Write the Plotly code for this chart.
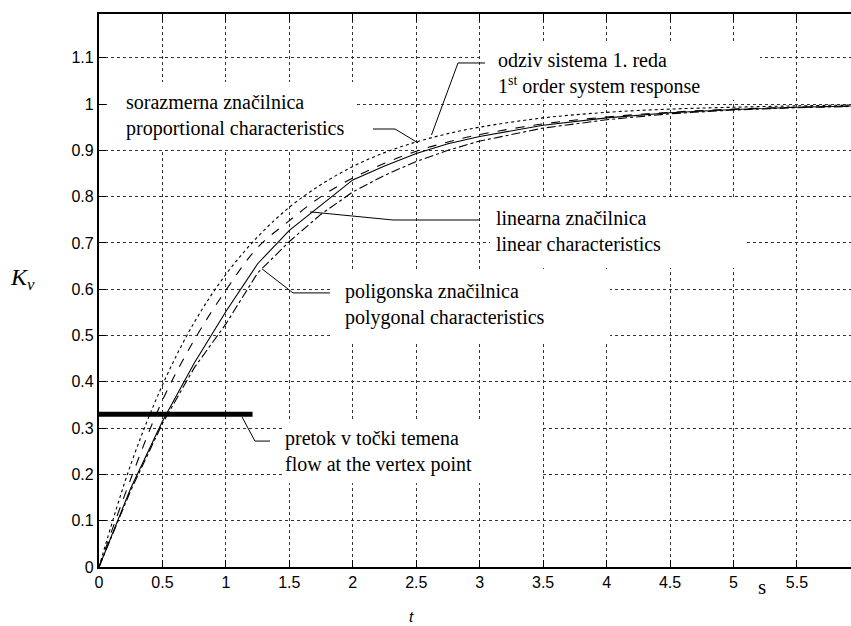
import plotly.graph_objects as go

# ---- data ----
t_vals = [0, 0.25, 0.5, 0.75, 1.0, 1.25, 1.5, 1.75, 2.0, 2.25, 2.5, 2.75, 3.0, 3.5, 4.0, 4.5, 5.0, 5.5, 6.0]
first_order = [0, 0.221, 0.393, 0.528, 0.632, 0.713, 0.777, 0.826, 0.865, 0.895, 0.918, 0.936, 0.950, 0.970, 0.982, 0.989, 0.993, 0.996, 0.998]
proportional = [0, 0.19, 0.36, 0.49, 0.598, 0.69, 0.748, 0.80, 0.840, 0.872, 0.898, 0.918, 0.934, 0.957, 0.972, 0.982, 0.989, 0.993, 0.996]
linear = [0, 0.17, 0.315, 0.44, 0.552, 0.655, 0.727, 0.782, 0.836, 0.866, 0.893, 0.914, 0.930, 0.954, 0.970, 0.981, 0.988, 0.993, 0.996]
polygonal = [0, 0.165, 0.31, 0.43, 0.525, 0.635, 0.703, 0.762, 0.81, 0.846, 0.876, 0.900, 0.920, 0.948, 0.966, 0.979, 0.987, 0.992, 0.995]

vertex_flow = 0.33
vertex_t = [0, 1.21]

x_ticks = [0, 0.5, 1, 1.5, 2, 2.5, 3, 3.5, 4, 4.5, 5, 5.5]
x_ticktext = ["0", "0.5", "1", "1.5", "2", "2.5", "3", "3.5", "4", "4.5", "5", "5.5"]
y_ticks = [0, 0.1, 0.2, 0.3, 0.4, 0.5, 0.6, 0.7, 0.8, 0.9, 1.0, 1.1]
y_ticktext = ["0", "0.1", "0.2", "0.3", "0.4", "0.5", "0.6", "0.7", "0.8", "0.9", "1", "1.1"]

# labels: text, anchor (t, K) , white box (t0, t1, K0, K1), leader points
labels = [
    ("odziv sistema 1. reda<br>1<sup>st</sup> order system response", (3.13, 1.066),
     (3.018, 5.209, 1.009, 1.134), [(2.62, 0.933), (2.829, 1.0886), (3.042, 1.0886)]),
    ("sorazmerna značilnica<br>proportional characteristics", (0.20, 0.976),
     (0.063, 2.033, 0.903, 1.0475), [(2.514, 0.916), (2.333, 0.946), (2.159, 0.946)]),
    ("linearna značilnica<br>linear characteristics", (3.11, 0.726),
     (3.081, 5.09, 0.646, 0.795), [(1.663, 0.767), (2.317, 0.7495), (3.002, 0.7495)]),
    ("poligonska značilnica<br>polygonal characteristics", (1.92, 0.566),
     (1.835, 4.027, 0.484, 0.637), [(1.284, 0.644), (1.529, 0.592), (1.820, 0.592)]),
    ("pretok v točki temena<br>flow at the vertex point", (1.45, 0.2505),
     (1.442, 3.475, 0.181, 0.3175), [(1.127, 0.324), (1.229, 0.272), (1.348, 0.272)]),
]

x_range = [0, 5.926]
y_range = [0, 1.1944]

fig = go.Figure()
line_w = 1.1
fig.add_trace(go.Scatter(x=t_vals, y=first_order, mode="lines",
                         line=dict(color="black", width=line_w, dash="dot", shape="spline")))
fig.add_trace(go.Scatter(x=t_vals, y=proportional, mode="lines",
                         line=dict(color="black", width=line_w, dash="dash", shape="spline")))
fig.add_trace(go.Scatter(x=t_vals, y=linear, mode="lines",
                         line=dict(color="black", width=line_w)))
fig.add_trace(go.Scatter(x=t_vals, y=polygonal, mode="lines",
                         line=dict(color="black", width=line_w, dash="dashdot")))
fig.add_trace(go.Scatter(x=vertex_t, y=[vertex_flow, vertex_flow], mode="lines",
                         line=dict(color="black", width=5)))

serif = "Liberation Serif"
shapes = []
annotations = []
for text, (ax_, ay_), (bx0, bx1, by0, by1), pts in labels:
    shapes.append(dict(type="rect", xref="x", yref="y", x0=bx0, x1=bx1, y0=by0, y1=by1,
                       fillcolor="white", line=dict(width=0), layer="between"))
    path = "M " + " L ".join(f"{px},{py}" for px, py in pts)
    shapes.append(dict(type="path", xref="x", yref="y", path=path,
                       line=dict(color="black", width=1), layer="above"))
    annotations.append(dict(x=ax_, y=ay_, xref="x", yref="y", text=text, showarrow=False,
                            xanchor="left", yanchor="middle", align="left",
                            font=dict(family=serif, size=20, color="black")))

annotations.append(dict(x=-0.102, y=0.52, xref="paper", yref="paper",
                        xanchor="center", yanchor="middle",
                        text="<i>K<sub>v</sub></i>", showarrow=False,
                        font=dict(family=serif, size=24, color="black")))
annotations.append(dict(x=5.225, y=-0.0362, xref="x", yref="paper", text="s", showarrow=False,
                        xanchor="center", yanchor="middle",
                        font=dict(family=serif, size=21, color="black")))
annotations.append(dict(x=2.46, y=-0.089, xref="x", yref="paper", text="<i>t</i>", showarrow=False,
                        xanchor="center", yanchor="middle",
                        font=dict(family="Liberation Sans", size=15, color="black")))

axis_font = dict(family="Liberation Sans", size=16, color="black")
fig.update_layout(
    width=851, height=626,
    margin=dict(l=99, r=0, t=14, b=59),
    paper_bgcolor="white", plot_bgcolor="white",
    showlegend=False,
    shapes=shapes,
    annotations=annotations,
    xaxis=dict(range=x_range, tickvals=x_ticks, ticktext=x_ticktext,
               showgrid=True, gridcolor="#333333", griddash="dot", gridwidth=1,
               zeroline=False, showline=True, linecolor="black", linewidth=1.6,
               mirror="ticks", ticks="inside", ticklen=7, tickcolor="black", tickwidth=1,
               tickfont=axis_font),
    yaxis=dict(range=y_range, tickvals=y_ticks, ticktext=y_ticktext,
               showgrid=True, gridcolor="#333333", griddash="dot", gridwidth=1,
               zeroline=False, showline=True, linecolor="black", linewidth=2.2,
               ticks="inside", ticklen=7, tickcolor="black", tickwidth=1,
               tickfont=axis_font),
)

fig.write_html("out.html")
